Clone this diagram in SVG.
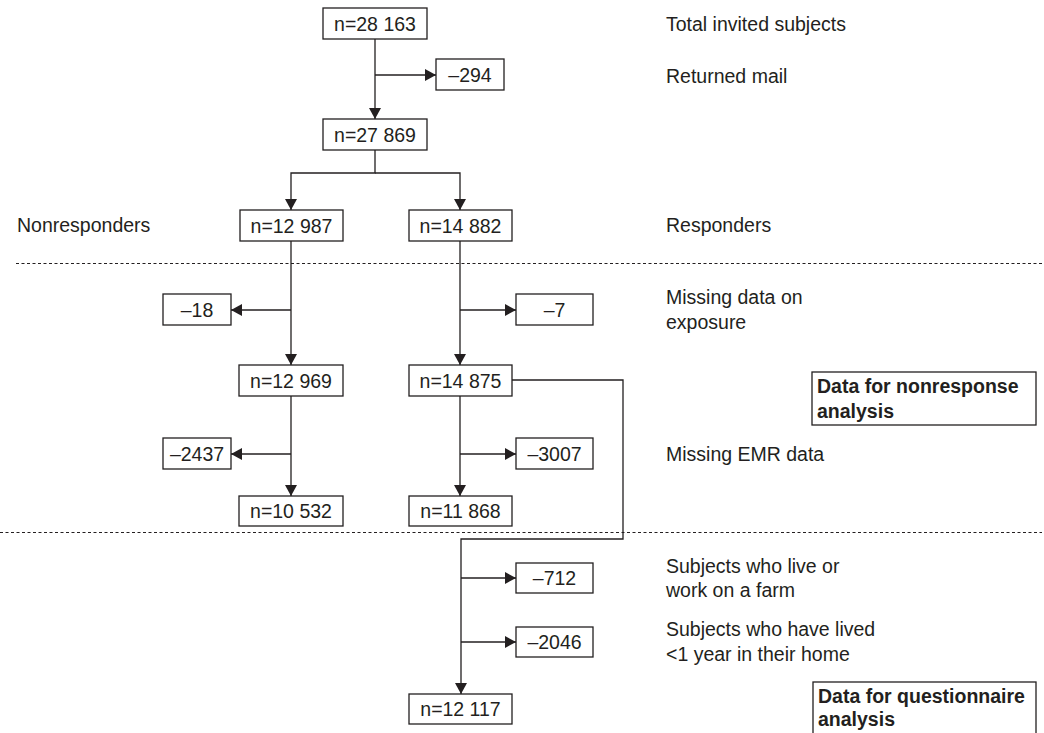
<svg xmlns="http://www.w3.org/2000/svg" width="1044" height="733" viewBox="0 0 1044 733">
<style>
.box{fill:#fff;stroke:#231f20;stroke-width:1.3}
.t{font-family:"Liberation Sans",Arial,sans-serif;font-size:19.5px;fill:#231f20}
.c{text-anchor:middle}
.b{font-weight:bold;font-size:19.5px}
.ln{fill:none;stroke:#231f20;stroke-width:1.3}
.dot{fill:none;stroke:#231f20;stroke-width:1.2;stroke-dasharray:3 2.5}
</style>
<defs>
<marker id="ar" markerWidth="12" markerHeight="12" refX="11" refY="6" orient="auto" markerUnits="userSpaceOnUse">
<path d="M0,0 L11,6 L0,12 z" fill="#231f20"/>
</marker>
</defs>
<rect width="1044" height="733" fill="#fff"/>
<g id="dividers">
<line class="dot" x1="16" y1="263.5" x2="1042" y2="263.5"/>
<line class="dot" x1="0" y1="532.5" x2="1042" y2="532.5"/>
</g>
<g id="connectors">
<path class="ln" d="M375,39 V119" marker-end="url(#ar)"/>
<path class="ln" d="M375,75 H436" marker-end="url(#ar)"/>
<path class="ln" d="M375,150 V173 H291 V210" marker-end="url(#ar)"/>
<path class="ln" d="M375,173 H460 V210" marker-end="url(#ar)"/>
<path class="ln" d="M291,241 V365" marker-end="url(#ar)"/>
<path class="ln" d="M291,310 H231" marker-end="url(#ar)"/>
<path class="ln" d="M460,241 V365" marker-end="url(#ar)"/>
<path class="ln" d="M460,310 H516" marker-end="url(#ar)"/>
<path class="ln" d="M291,396 V496" marker-end="url(#ar)"/>
<path class="ln" d="M291,454 H231" marker-end="url(#ar)"/>
<path class="ln" d="M460,396 V496" marker-end="url(#ar)"/>
<path class="ln" d="M460,454 H516" marker-end="url(#ar)"/>
<path class="ln" d="M512,380 H623 V539 H461 V694" marker-end="url(#ar)"/>
<path class="ln" d="M461,578 H516" marker-end="url(#ar)"/>
<path class="ln" d="M461,642 H516" marker-end="url(#ar)"/>
</g>
<g id="n28163"><rect class="box" x="323" y="8" width="104" height="31"/><text class="t c" x="375" y="30.5">n=28 163</text></g>
<g id="m294"><rect class="box" x="436" y="59" width="68" height="31"/><text class="t c" x="470" y="81.5">–294</text></g>
<g id="n27869"><rect class="box" x="323" y="119" width="104" height="31"/><text class="t c" x="375" y="141.5">n=27 869</text></g>
<g id="n12987"><rect class="box" x="240" y="210" width="103" height="31"/><text class="t c" x="291.5" y="232.5">n=12 987</text></g>
<g id="n14882"><rect class="box" x="409" y="210" width="103" height="31"/><text class="t c" x="460.5" y="232.5">n=14 882</text></g>
<g id="m18"><rect class="box" x="163" y="294" width="68" height="31"/><text class="t c" x="197" y="316.5">–18</text></g>
<g id="m7"><rect class="box" x="516" y="294" width="77" height="31"/><text class="t c" x="554.5" y="316.5">–7</text></g>
<g id="n12969"><rect class="box" x="239" y="365" width="104" height="31"/><text class="t c" x="291" y="387.5">n=12 969</text></g>
<g id="n14875"><rect class="box" x="409" y="365" width="103" height="31"/><text class="t c" x="460.5" y="387.5">n=14 875</text></g>
<g id="m2437"><rect class="box" x="163" y="438" width="68" height="31"/><text class="t c" x="197" y="460.5">–2437</text></g>
<g id="m3007"><rect class="box" x="516" y="438" width="77" height="31"/><text class="t c" x="554.5" y="460.5">–3007</text></g>
<g id="n10532"><rect class="box" x="239" y="496" width="104" height="30"/><text class="t c" x="291" y="518">n=10 532</text></g>
<g id="n11868"><rect class="box" x="409" y="496" width="103" height="30"/><text class="t c" x="460.5" y="518">n=11 868</text></g>
<g id="m712"><rect class="box" x="516" y="563" width="77" height="30"/><text class="t c" x="554.5" y="585">–712</text></g>
<g id="m2046"><rect class="box" x="516" y="627" width="77" height="30"/><text class="t c" x="554.5" y="649">–2046</text></g>
<g id="n12117"><rect class="box" x="409" y="694" width="103" height="30"/><text class="t c" x="460.5" y="716">n=12 117</text></g>
<g id="nonresponse"><rect class="box" x="812" y="372" width="224" height="53"/><text class="t b" x="817" y="393">Data for nonresponse</text><text class="t b" x="817" y="418">analysis</text></g>
<g id="questionnaire"><rect class="box" x="813" y="682" width="223" height="60"/><text class="t b" x="818" y="703">Data for questionnaire</text><text class="t b" x="818" y="726">analysis</text></g>
<g id="labels">
<text class="t" x="666" y="31">Total invited subjects</text>
<text class="t" x="666" y="83">Returned mail</text>
<text class="t" x="17" y="232">Nonresponders</text>
<text class="t" x="666" y="232">Responders</text>
<text class="t" x="666" y="304">Missing data on</text>
<text class="t" x="666" y="329">exposure</text>
<text class="t" x="666" y="461">Missing EMR data</text>
<text class="t" x="666" y="573">Subjects who live or</text>
<text class="t" x="666" y="597">work on a farm</text>
<text class="t" x="666" y="636">Subjects who have lived</text>
<text class="t" x="666" y="661">&lt;1 year in their home</text>
</g>
</svg>
